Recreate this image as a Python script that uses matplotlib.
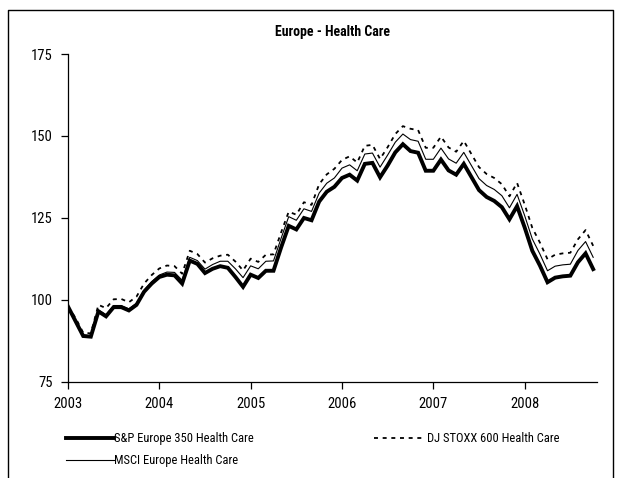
import matplotlib

matplotlib.use("Agg")
import matplotlib.pyplot as plt
from matplotlib.lines import Line2D

# fuente estrecha tipo Arial Narrow; si falta, cae en Liberation Sans
plt.rcParams["font.family"] = ["Roboto Condensed", "Liberation Sans", "DejaVu Sans"]

# indices mensuales desde ene-2003 (0) hasta oct-2008 (69)
YEARS = ["2003", "2004", "2005", "2006", "2007", "2008"]

SP_EUROPE_350 = [
  98.0, 93.5, 89.0, 88.8, 96.5, 95.0, 97.8, 97.8, 96.8, 98.5, 102.5, 105.0,
  107.0, 107.7, 107.5, 105.0, 112.0, 111.0, 108.2, 109.5, 110.3, 109.8, 107.0, 104.0,
  107.7, 106.7, 108.9, 108.9, 116.0, 122.6, 121.5, 125.0, 124.3, 130.0, 133.0, 134.5,
  137.2, 138.2, 136.4, 141.5, 141.8, 137.4, 141.0, 145.0, 147.5, 145.4, 144.9, 139.4,
  139.4, 142.8, 139.5, 138.2, 141.5, 137.5, 133.5, 131.4, 130.2, 128.3, 124.6, 128.6,
  122.1, 115.0, 110.5, 105.4, 106.8, 107.2, 107.4, 111.5, 114.2, 109.4,
]
MSCI_EUROPE = [
  98.0, 93.8, 89.3, 89.1, 97.0, 95.5, 98.3, 98.3, 97.3, 99.0, 103.0, 105.6,
  107.6, 108.5, 108.4, 106.0, 113.0, 112.0, 109.4, 110.8, 111.8, 111.8, 109.5, 106.8,
  110.4, 109.5, 111.8, 111.9, 118.8, 125.4, 124.3, 127.8, 127.0, 132.6, 135.6, 137.2,
  140.2, 141.2, 139.4, 144.5, 144.8, 140.5, 144.2, 148.1, 150.6, 148.9, 148.4, 142.9,
  142.9, 146.3, 143.0, 141.7, 145.0, 141.0, 137.0, 134.9, 133.7, 131.8, 128.1, 132.2,
  125.7, 118.6, 114.0, 108.9, 110.3, 110.7, 110.9, 115.1, 117.8, 113.0,
]
DJ_STOXX_600 = [
  98.0, 94.5, 90.0, 89.8, 98.5, 97.5, 100.2, 100.3, 99.3, 101.0, 105.0, 107.6,
  109.6, 110.5, 110.3, 108.0, 115.0, 114.0, 111.4, 112.7, 113.5, 113.8, 111.7, 109.0,
  112.6, 111.6, 113.8, 113.9, 120.6, 126.9, 126.0, 129.8, 129.0, 135.3, 138.3, 140.0,
  142.7, 143.8, 141.9, 147.0, 147.3, 143.0, 146.6, 150.6, 153.0, 152.2, 151.8, 146.4,
  146.4, 149.8, 146.5, 145.2, 148.5, 144.5, 140.5, 138.4, 137.2, 135.3, 131.6, 135.7,
  129.1, 122.0, 117.5, 112.4, 113.8, 114.2, 114.4, 118.5, 121.3, 116.5,
]

months = list(range(len(SP_EUROPE_350)))

fig = plt.figure(figsize=(6.18, 4.78), dpi=100)
ax = fig.add_axes([0.110, 0.201, 0.856, 0.686])

l_sp, = ax.plot(months, SP_EUROPE_350, color="black", lw=2.8, solid_joinstyle="miter",
                label="S&P Europe 350 Health Care", zorder=3)
l_msci, = ax.plot(months, MSCI_EUROPE, color="black", lw=0.8,
                  label="MSCI Europe Health Care", zorder=2)
l_dj, = ax.plot(months, DJ_STOXX_600, color="black", lw=1.3, ls=(0, (2.2, 2.6)),
                label="DJ STOXX 600 Health Care", zorder=2)

ax.set_xlim(0, 69.5)
ax.set_ylim(75, 175)
ax.set_yticks([75, 100, 125, 150, 175])
ax.set_xticks([12 * i for i in range(len(YEARS))])
ax.set_xticklabels(YEARS)
for s in ("top", "right"):
  ax.spines[s].set_visible(False)
for s in ("left", "bottom"):
  ax.spines[s].set_linewidth(0.9)
ax.tick_params(axis="both", direction="out", length=5, width=0.9, labelsize=10.5, colors="black")
ax.tick_params(axis="x", pad=6)
ax.tick_params(axis="y", pad=6)
ax.set_title("Europe - Health Care", fontsize=10, fontweight="bold", pad=13)

fig.legend(handles=[l_sp, l_msci], loc="upper left", bbox_to_anchor=(0.099, 0.106),
           frameon=False, fontsize=9, handlelength=3.8, handletextpad=0.05,
           labelspacing=0.7, borderaxespad=0)
fig.legend(handles=[l_dj], loc="upper left", bbox_to_anchor=(0.597, 0.106),
           frameon=False, fontsize=9, handlelength=4.2, handletextpad=0.05,
           borderaxespad=0)

# marco del gráfico (abierto abajo, como en el original)
fx0, fx1, fy1 = 8 / 618, 613 / 618, 1 - 10 / 478
fig.add_artist(Line2D([fx0, fx0, fx1, fx1], [0, fy1, fy1, 0], color="black", lw=1.0,
                      transform=fig.transFigure))

fig.savefig("out.png", dpi=100)
plt.close(fig)
